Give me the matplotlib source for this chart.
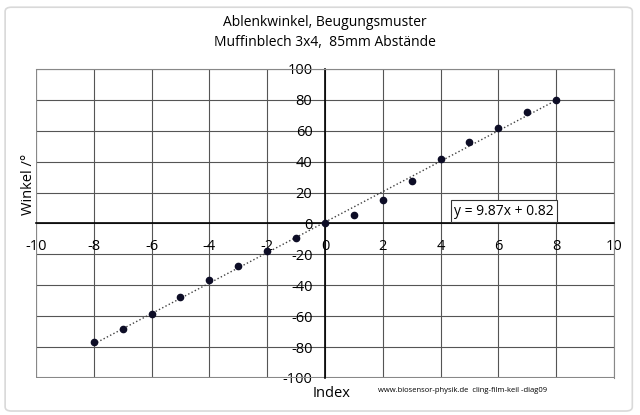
import numpy as np
import matplotlib
matplotlib.use("Agg")
import matplotlib.pyplot as plt
from matplotlib.patches import FancyBboxPatch

# measured deflection angles per diffraction order
index = [-8, -7, -6, -5, -4, -3, -2, -1, 0, 1, 2, 3, 4, 5, 6, 7, 8]
winkel = [-76.4, -68.6, -58.3, -47.9, -36.9, -27.8, -17.5, -9.1, 0.0,
          5.2, 14.9, 27.8, 42.0, 53.0, 62.0, 72.0, 80.0]

x_ticks = list(range(-10, 11, 2))
y_ticks = list(range(-100, 101, 20))
trend_label = 'y = 9.87x + 0.82'

plt.rcParams['font.family'] = ['Open Sans', 'DejaVu Sans']
plt.rcParams['axes.unicode_minus'] = False

fig = plt.figure(figsize=(6.4, 4.15), dpi=100)

# light chart border
fig.patches.append(FancyBboxPatch((0.008, 0.0096), 0.98, 0.973,
                                  boxstyle="round,pad=0,rounding_size=0.01",
                                  transform=fig.transFigure, fill=False,
                                  edgecolor='#d9d9d9', linewidth=1.2))

ax = fig.add_axes([0.05625, 0.0892, 0.903, 0.7446])

# trendline (linear fit)
slope, icpt = np.polyfit(index, winkel, 1)
xs = np.array([min(index), max(index)])
ax.plot(xs, slope * xs + icpt, linestyle=':', color='#404040', linewidth=1.0, zorder=3)

ax.plot(index, winkel, 'o', color='#0d0d26', markersize=4.5, zorder=4)

ax.set_xlim(-10, 10)
ax.set_ylim(-100, 100)
ax.set_xticks(x_ticks)
ax.set_yticks(y_ticks)
ax.grid(True, color='#555555', linewidth=0.8)
ax.set_axisbelow(True)

# axes cross at the origin
ax.spines['left'].set_position(('data', 0))
ax.spines['bottom'].set_position(('data', 0))
ax.spines['left'].set_color('black')
ax.spines['bottom'].set_color('black')
ax.spines['left'].set_linewidth(1.2)
ax.spines['bottom'].set_linewidth(1.2)
ax.spines['top'].set_color('#888888')
ax.spines['right'].set_color('#888888')
ax.axhline(-100, color='#888888', linewidth=1.5)
ax.axvline(-10, color='#888888', linewidth=1.5)
ax.tick_params(length=0, labelsize=10.5)
ax.tick_params(axis='y', pad=9)
ax.tick_params(axis='x', pad=11)
for lbl in ax.get_yticklabels() + ax.get_xticklabels():
    lbl.set_zorder(5)

ax.text(0.5, 1.152, 'Ablenkwinkel, Beugungsmuster', transform=ax.transAxes,
        ha='center', va='center', fontsize=10)
ax.text(0.5, 1.087, 'Muffinblech 3x4,  85mm Abstände', transform=ax.transAxes,
        ha='center', va='center', fontsize=10)

fig.text(0.044, 0.555, 'Winkel /°', rotation=90, ha='center', va='center', fontsize=10.5)
fig.text(0.518, 0.052, 'Index', ha='center', va='center', fontsize=10.5)
fig.text(0.59, 0.058, 'www.biosensor-physik.de  cling-film-keil -diag09',
         ha='left', va='center', fontsize=5.5)

ax.text(6.2, 7.8, trend_label, ha='center', va='center',
        fontsize=10, zorder=6,
        bbox=dict(boxstyle='square,pad=0.25', facecolor='white', edgecolor='#333333', linewidth=0.8))

fig.savefig('out.png', dpi=100)
